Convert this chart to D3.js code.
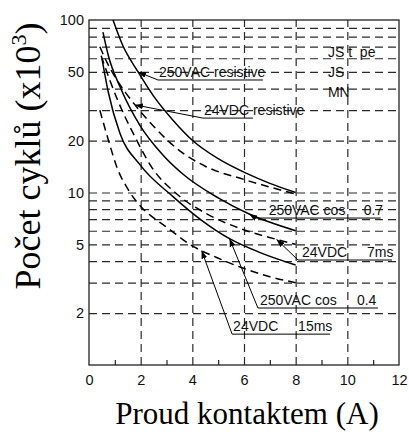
<!DOCTYPE html>
<html>
<head>
<meta charset="utf-8">
<style>
  body { margin: 0; background: #fff; }
</style>
</head>
<body>
<svg width="409" height="435"></svg>
<script src="https://cdnjs.cloudflare.com/ajax/libs/d3/7.8.5/d3.min.js"></script>
<script>

  // axis values
  var xTicks = [0, 2, 4, 6, 8, 10, 12];
  var xMinor = [1, 3, 5, 7, 9, 11];
  var xGrid = [2, 4, 6, 8, 10];
  var yTicks = [2, 5, 10, 20, 50, 100];
  var yGrid = [2, 3, 4, 5, 6, 7, 8, 9, 10, 20, 30, 40, 50, 60, 70, 80, 90];

  // contact current (A) / cycles (x10^3)
  var acResX = [0.93, 1.3, 1.9, 2.5, 3.2, 4, 5, 6.1, 7, 8];
  var acResY = [100, 71.6, 50, 36.2, 26.8, 20.1, 15.7, 12.9, 11.3, 10];

  var dcResX = [0.42, 0.7, 1.0, 1.4, 1.78, 2.5, 3.5, 4.5, 6, 8];
  var dcResY = [70, 56.6, 47, 38.2, 32.2, 24.2, 17.5, 14.2, 11.9, 9.8];

  var ac07X = [0.54, 0.75, 1.2, 1.97, 2.86, 3.63, 5, 6.2, 8];
  var ac07Y = [85, 62, 41, 24.5, 16.5, 12.8, 9.3, 7.5, 6];

  var dc7X = [0.47, 0.8, 1.12, 1.78, 2.43, 3.4, 4.5, 5.83, 7.26, 8];
  var dc7Y = [62, 45, 34, 21, 14, 9.8, 7.6, 6.2, 5.35, 5];

  var ac04X = [0.5, 0.75, 1.2, 1.97, 3.24, 4.36, 5.44, 6.6, 8];
  var ac04Y = [60, 38, 22, 14.5, 9.5, 6.9, 5.4, 4.5, 3.8];

  var dc15X = [0.42, 0.8, 1.08, 1.5, 1.97, 2.63, 3, 4, 4.94, 5.95, 7, 8];
  var dc15Y = [30, 19, 14, 10.5, 8.4, 6.9, 6.3, 4.9, 4.2, 3.65, 3.25, 3];

  var series = [
    { xs: acResX, ys: acResY, dashed: false },
    { xs: dcResX, ys: dcResY, dashed: true },
    { xs: ac07X, ys: ac07Y, dashed: false },
    { xs: dc7X, ys: dc7Y, dashed: true },
    { xs: ac04X, ys: ac04Y, dashed: false },
    { xs: dc15X, ys: dc15Y, dashed: true }
  ];

  // leader labels: tip on curve, knee (data units), underline length and text pieces
  var notes = [
    { tip: [1.9, 50], knee: [2.67, 44.9], len: 105, parts: [["250VAC resistive", 1]] },
    { tip: [1.78, 32.2], knee: [4.41, 27], len: 50, parts: [["24VDC resistive", 1]] },
    { tip: [6.2, 7.5], knee: [6.45, 7.11], len: 125, parts: [["250VAC cos", 13], ["0.7", 108]] },
    { tip: [7.26, 5.35], knee: [8.09, 4.06], len: 94, parts: [["24VDC", 4], ["7ms", 69]] },
    { tip: [5.44, 5.4], knee: [6.54, 2.14], len: 120, parts: [["250VAC cos", 2], ["0.4", 99]] },
    { tip: [4.36, 4.6], knee: [5.54, 1.51], len: 98, parts: [["24VDC", 1], ["15ms", 66]] }
  ];

  var typeText = [["JS t  pe", 61], ["JS", 46.7], ["MN", 35.8]];

  var sans = "'Liberation Sans', Arial, sans-serif";
  var serif = "'Liberation Serif', 'Times New Roman', serif";

  var svg = d3.select("svg");

  var x = d3.scaleLinear().domain([0, 12]).range([89, 399]);
  var y = d3.scaleLog().domain([1, 100]).range([365, 20]);

  var defs = svg.append("defs");
  defs.append("marker")
    .attr("id", "arr")
    .attr("markerUnits", "userSpaceOnUse")
    .attr("markerWidth", 8).attr("markerHeight", 6)
    .attr("refX", 8).attr("refY", 3)
    .attr("orient", "auto")
    .append("path").attr("d", "M0,0L8,3L0,6z").attr("fill", "#000");

  // dashed grid
  var vg = svg.append("g")
    .attr("transform", "translate(0," + y(1) + ")")
    .call(d3.axisBottom(x).tickValues(xGrid).tickSize(-(y(1) - y(100))).tickFormat(""));
  var hg = svg.append("g")
    .attr("transform", "translate(" + x(0) + ",0)")
    .call(d3.axisLeft(y).tickValues(yGrid).tickSize(-(x(12) - x(0))).tickFormat(""));
  [vg, hg].forEach(function (g) {
    g.select(".domain").remove();
    g.selectAll(".tick line")
      .attr("stroke", "#2a2a2a")
      .attr("stroke-width", 1.2)
      .attr("stroke-dasharray", "8,5");
  });

  // minor ticks on bottom
  var mt = svg.append("g")
    .attr("transform", "translate(0," + y(1) + ")")
    .call(d3.axisBottom(x).tickValues(xMinor).tickSizeInner(-5).tickSizeOuter(0).tickFormat(""));
  mt.select(".domain").remove();
  mt.selectAll(".tick line").attr("stroke", "#222").attr("stroke-width", 1.2);

  // tick labels
  var xa = svg.append("g")
    .attr("transform", "translate(0," + y(1) + ")")
    .call(d3.axisBottom(x).tickValues(xTicks).tickSize(0).tickPadding(10));
  var ya = svg.append("g")
    .attr("transform", "translate(" + x(0) + ",0)")
    .call(d3.axisLeft(y).tickValues(yTicks).tickSize(0).tickPadding(5).tickFormat(d3.format("d")));
  [xa, ya].forEach(function (g) {
    g.select(".domain").remove();
    g.attr("font-family", sans).attr("font-size", 14.5);
    g.selectAll("text").attr("fill", "#111");
  });

  // frame
  svg.append("rect")
    .attr("x", x(0)).attr("y", y(100))
    .attr("width", x(12) - x(0)).attr("height", y(1) - y(100))
    .attr("fill", "none").attr("stroke", "#222").attr("stroke-width", 1.3);

  // curves
  var line = d3.line()
    .x(function (d) { return x(d[0]); })
    .y(function (d) { return y(d[1]); })
    .curve(d3.curveMonotoneX);

  svg.append("g").selectAll("path")
    .data(series)
    .enter().append("path")
    .attr("d", function (s) { return line(d3.zip(s.xs, s.ys)); })
    .attr("fill", "none")
    .attr("stroke", "#000")
    .attr("stroke-width", 1.5)
    .attr("stroke-dasharray", function (s) { return s.dashed ? "8,5" : null; });

  // labels with leaders
  var ng = svg.append("g")
    .attr("font-family", sans).attr("font-size", 14)
    .selectAll("g").data(notes).enter().append("g");
  ng.append("line")
    .attr("x1", function (d) { return x(d.knee[0]); })
    .attr("y1", function (d) { return y(d.knee[1]); })
    .attr("x2", function (d) { return x(d.knee[0]) + d.len; })
    .attr("y2", function (d) { return y(d.knee[1]); })
    .attr("stroke", "#000").attr("stroke-width", 1);
  ng.append("line")
    .attr("x1", function (d) { return x(d.knee[0]); })
    .attr("y1", function (d) { return y(d.knee[1]); })
    .attr("x2", function (d) { return x(d.tip[0]); })
    .attr("y2", function (d) { return y(d.tip[1]); })
    .attr("stroke", "#000").attr("stroke-width", 1)
    .attr("marker-end", "url(#arr)");
  ng.each(function (d) {
    var g = d3.select(this);
    d.parts.forEach(function (p) {
      g.append("text")
        .attr("x", x(d.knee[0]) + p[1])
        .attr("y", y(d.knee[1]) - 3)
        .attr("fill", "#111")
        .text(p[0]);
    });
  });

  svg.append("g")
    .attr("font-family", sans).attr("font-size", 14)
    .selectAll("text")
    .data(typeText)
    .enter().append("text")
    .attr("x", x(9.25))
    .attr("y", function (d) { return y(d[1]); })
    .attr("fill", "#111")
    .style("white-space", "pre")
    .text(function (d) { return d[0]; });

  // axis titles
  svg.append("text")
    .attr("x", 247).attr("y", 424)
    .attr("text-anchor", "middle")
    .attr("font-family", serif)
    .attr("font-size", 31)
    .attr("fill", "#000")
    .text("Proud kontaktem (A)");

  var yt = svg.append("text")
    .attr("transform", "translate(40,156) rotate(-90)")
    .attr("text-anchor", "middle")
    .attr("font-family", serif)
    .attr("font-size", 36)
    .attr("fill", "#000");
  yt.append("tspan").attr("font-family", serif).text("Počet cyklů (x10");
  yt.append("tspan").attr("font-family", serif).attr("font-size", 22).attr("dy", -14).text("3");
  yt.append("tspan").attr("font-family", serif).attr("dy", 14).text(")");

</script>
</body>
</html>
